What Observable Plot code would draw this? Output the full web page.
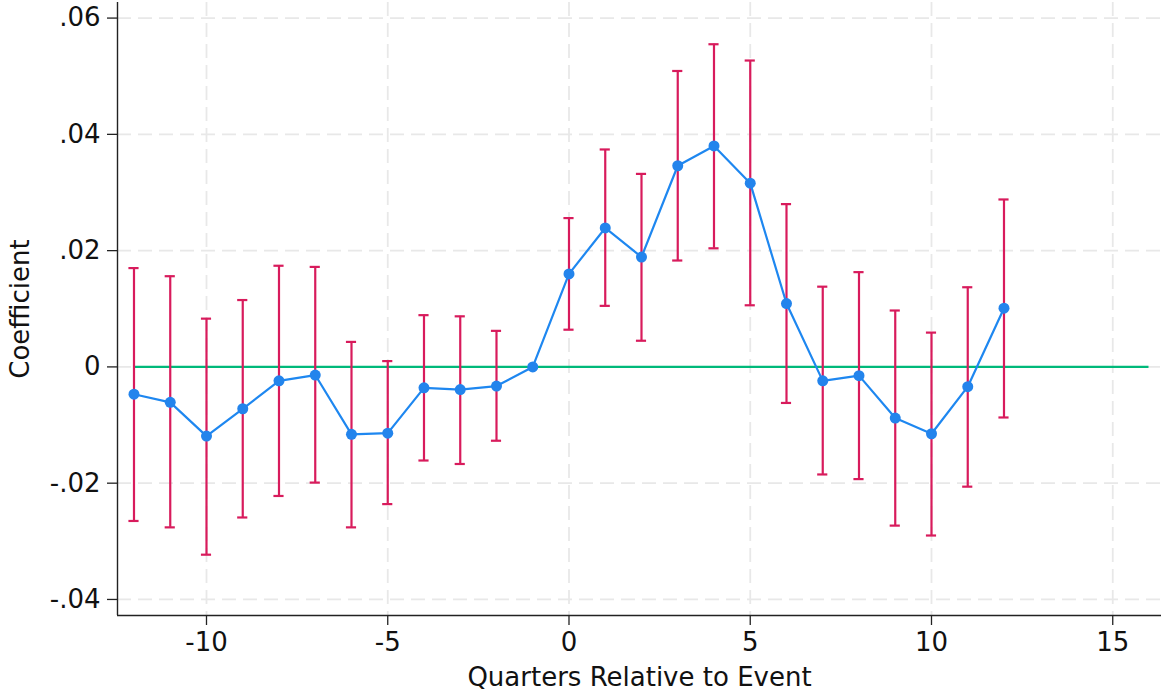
<!DOCTYPE html>
<html>
<head>
<meta charset="utf-8">
<script src="https://cdn.jsdelivr.net/npm/d3@7"></script>
<script src="https://cdn.jsdelivr.net/npm/@observablehq/plot@0.6"></script>
<style>
  html, body { margin: 0; padding: 0; background: #fff; }
  #chart svg { display: block; }
</style>
</head>
<body>
<div id="chart"></div>
<script>
const quarters = [-12,-11,-10,-9,-8,-7,-6,-5,-4,-3,-2,-1,0,1,2,3,4,5,6,7,8,9,10,11,12];
const coef  = [-0.0047,-0.0061,-0.0119,-0.0072,-0.0024,-0.0014,-0.0116,-0.0114,-0.0036,-0.0039,-0.0033,0,0.0160,0.0239,0.0189,0.0346,0.0380,0.0316,0.0109,-0.0024,-0.0015,-0.0088,-0.0115,-0.0034,0.0101];
const upper = [0.0170,0.0156,0.0083,0.0115,0.0174,0.0172,0.0043,0.0010,0.0089,0.0087,0.0062,null,0.0256,0.0374,0.0332,0.0509,0.0555,0.0527,0.0280,0.0138,0.0163,0.0097,0.0059,0.0137,0.0288];
const lower = [-0.0265,-0.0276,-0.0323,-0.0259,-0.0222,-0.0199,-0.0276,-0.0236,-0.0161,-0.0167,-0.0127,null,0.0064,0.0105,0.0045,0.0183,0.0204,0.0106,-0.0062,-0.0185,-0.0193,-0.0273,-0.0290,-0.0206,-0.0087];
const xTicks = [-10,-5,0,5,10,15];
const yTicks = [-0.04,-0.02,0,0.02,0.04,0.06];
const xLabel = "Quarters Relative to Event";
const yLabel = "Coefficient";
const zeroLine = [{y: 0, x1: -12, x2: 16}];

const data = quarters.map((q, i) => ({q, c: coef[i], hi: upper[i], lo: lower[i]}));
const ci = data.filter(d => d.hi != null);

const xDomain = [-12.455, 16.345];
const yDomain = [-0.04276, 0.06268];
const capHalf = 0.14;

const fmtY = d => d === 0 ? "0" : (d < 0 ? "-" : "") + Math.abs(d).toFixed(2).replace(/^0/, "");
const fmtX = d => String(d);

const axisColor = "#222";
const font = "DejaVu Sans";

const chart = Plot.plot({
  width: 1161,
  height: 694,
  marginLeft: 117,
  marginRight: 0,
  marginTop: 2,
  marginBottom: 79,
  style: {fontFamily: font, background: "#fff", color: "#111"},
  x: {domain: xDomain},
  y: {domain: yDomain},
  marks: [
    Plot.gridX(xTicks, {stroke: "#e8e8e8", strokeOpacity: 1, strokeWidth: 1.8, strokeDasharray: "14,7"}),
    Plot.gridY(yTicks, {stroke: "#e8e8e8", strokeOpacity: 1, strokeWidth: 1.8, strokeDasharray: "14,7"}),
    Plot.ruleY(zeroLine, {y: "y", x1: "x1", x2: "x2", stroke: "#00b97a", strokeWidth: 2.4}),
    Plot.ruleX(ci, {x: "q", y1: "lo", y2: "hi", stroke: "#d81b5c", strokeWidth: 2.2}),
    Plot.ruleY(ci, {y: "hi", x1: d => d.q - capHalf, x2: d => d.q + capHalf, stroke: "#d81b5c", strokeWidth: 2.2}),
    Plot.ruleY(ci, {y: "lo", x1: d => d.q - capHalf, x2: d => d.q + capHalf, stroke: "#d81b5c", strokeWidth: 2.2}),
    Plot.line(data, {x: "q", y: "c", stroke: "#1e87f0", strokeWidth: 2.2}),
    Plot.dot(data, {x: "q", y: "c", r: 5.5, fill: "#2384ec", stroke: "none"}),
    Plot.ruleX([xDomain[0]], {stroke: axisColor, strokeWidth: 1.4}),
    Plot.ruleY([yDomain[0]], {stroke: axisColor, strokeWidth: 1.4}),
    Plot.axisX(xTicks, {tickSize: 10, tickPadding: 7, fontSize: 26, tickFormat: fmtX, stroke: axisColor, strokeWidth: 1.3, fill: "#111", label: null}),
    Plot.axisY(yTicks, {tickSize: 10, tickPadding: 7, fontSize: 26, tickFormat: fmtY, stroke: axisColor, strokeWidth: 1.3, fill: "#111", label: null}),
    Plot.text([yLabel], {text: d => d, frameAnchor: "left", dx: -97, rotate: -90, fontSize: 26, fill: "#111", textAnchor: "middle", lineAnchor: "middle"}),
    Plot.text([xLabel], {text: d => d, frameAnchor: "bottom", dy: 62, fontSize: 26, fill: "#111", textAnchor: "middle", lineAnchor: "middle"})
  ]
});
document.getElementById("chart").appendChild(chart);
</script>
</body>
</html>
